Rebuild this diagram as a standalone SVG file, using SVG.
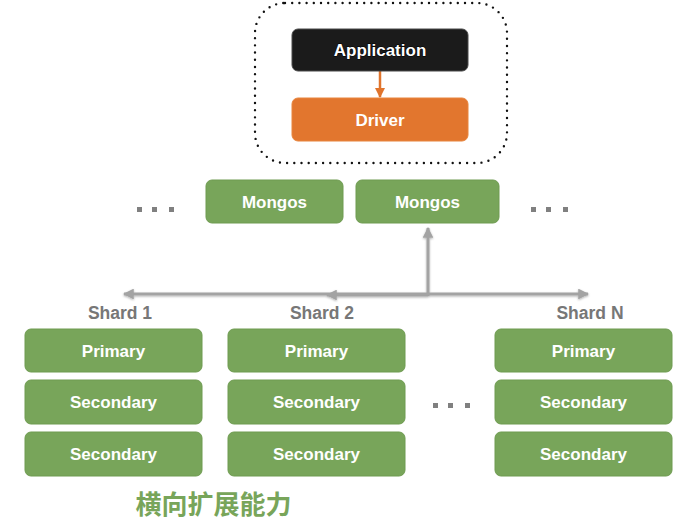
<svg xmlns="http://www.w3.org/2000/svg" width="680" height="525" viewBox="0 0 680 525">
<style>
.g{fill:#78a55a;stroke:#6e9b50;stroke-width:1}
.t{font-family:"Liberation Sans",Arial,sans-serif;font-weight:bold;font-size:17px;fill:#fff;text-anchor:middle;dominant-baseline:central}
.s{font-family:"Liberation Sans",Arial,sans-serif;font-weight:bold;font-size:17.5px;fill:#777;text-anchor:middle}
.d{fill:#808080}
.c{stroke:#a3a3a3;stroke-width:3;fill:none}
</style>
<defs>
<marker id="ga" viewBox="0 0 10 10" refX="9" refY="5" markerWidth="3.6" markerHeight="3.6" orient="auto-start-reverse"><path d="M0,0 L10,5 L0,10 Z" fill="#a3a3a3"/></marker>
<marker id="oa" viewBox="0 0 10 10" refX="9" refY="5" markerWidth="4" markerHeight="4" orient="auto"><path d="M0,0 L10,5 L0,10 Z" fill="#e0742c"/></marker>
<filter id="sh" x="-10%" y="-50%" width="120%" height="200%"><feDropShadow dx="0" dy="1" stdDeviation="0.8" flood-color="#000" flood-opacity="0.3"/></filter>
</defs>

<rect x="255" y="3" width="252" height="160" rx="30" fill="none" stroke="#111" stroke-width="2.4" stroke-dasharray="0 7.2" stroke-linecap="round"/>

<g id="connectors">
<line x1="380" y1="71" x2="380" y2="97" stroke="#e0742c" stroke-width="2.5" marker-end="url(#oa)"/>
<g filter="url(#sh)">
<line class="c" x1="428" y1="294" x2="124" y2="294" marker-end="url(#ga)"/>
<line class="c" x1="428" y1="295" x2="327" y2="295" marker-end="url(#ga)"/>
<line class="c" x1="428" y1="294" x2="588" y2="294" marker-end="url(#ga)"/>
<line class="c" x1="428" y1="296" x2="428" y2="228" stroke-width="4" marker-end="url(#ga)"/>
</g>
</g>

<g id="application">
<rect x="292" y="29" width="176" height="42" rx="6" fill="#1b1b1b" stroke="#4a4a4a" stroke-width="1"/>
<text class="t" x="380" y="50" style="paint-order:stroke;stroke:#000;stroke-width:1">Application</text>
</g>
<g id="driver">
<rect x="292" y="98" width="176" height="43" rx="6" fill="#e2762e" stroke="#e8843c" stroke-width="1"/>
<text class="t" x="380" y="120">Driver</text>
</g>

<g id="mongos-dots-left"><rect class="d" x="137" y="207" width="5" height="5"/><rect class="d" x="152" y="207" width="5" height="5"/><rect class="d" x="169" y="207" width="5" height="5"/></g>
<g id="mongos1"><rect class="g" x="206" y="180" width="137" height="43" rx="6"/><text class="t" x="274.5" y="202">Mongos</text></g>
<g id="mongos2"><rect class="g" x="356" y="180" width="143" height="43" rx="6"/><text class="t" x="427.5" y="202">Mongos</text></g>
<g id="mongos-dots-right"><rect class="d" x="531" y="207" width="5" height="5"/><rect class="d" x="546" y="207" width="5" height="5"/><rect class="d" x="563" y="207" width="5" height="5"/></g>

<g id="shard1">
<text class="s" x="120" y="319">Shard 1</text>
<rect class="g" x="25" y="329" width="177" height="43" rx="6"/><text class="t" x="113.5" y="351">Primary</text>
<rect class="g" x="25" y="380" width="177" height="44" rx="6"/><text class="t" x="113.5" y="402">Secondary</text>
<rect class="g" x="25" y="432" width="177" height="44" rx="6"/><text class="t" x="113.5" y="454">Secondary</text>
</g>
<g id="shard2">
<text class="s" x="322" y="319">Shard 2</text>
<rect class="g" x="228" y="329" width="177" height="43" rx="6"/><text class="t" x="316.5" y="351">Primary</text>
<rect class="g" x="228" y="380" width="177" height="44" rx="6"/><text class="t" x="316.5" y="402">Secondary</text>
<rect class="g" x="228" y="432" width="177" height="44" rx="6"/><text class="t" x="316.5" y="454">Secondary</text>
</g>
<g id="shard-dots"><rect class="d" x="433" y="403" width="5" height="5"/><rect class="d" x="448" y="403" width="5" height="5"/><rect class="d" x="465" y="403" width="5" height="5"/></g>
<g id="shardN">
<text class="s" x="590" y="319">Shard N</text>
<rect class="g" x="495" y="329" width="177" height="43" rx="6"/><text class="t" x="583.5" y="351">Primary</text>
<rect class="g" x="495" y="380" width="177" height="44" rx="6"/><text class="t" x="583.5" y="402">Secondary</text>
<rect class="g" x="495" y="432" width="177" height="44" rx="6"/><text class="t" x="583.5" y="454">Secondary</text>
</g>

<text x="213.5" y="514" font-family="'Liberation Sans','Noto Sans CJK SC',sans-serif" font-weight="bold" font-size="26" fill="#78a55a" text-anchor="middle">横向扩展能力</text>
</svg>
